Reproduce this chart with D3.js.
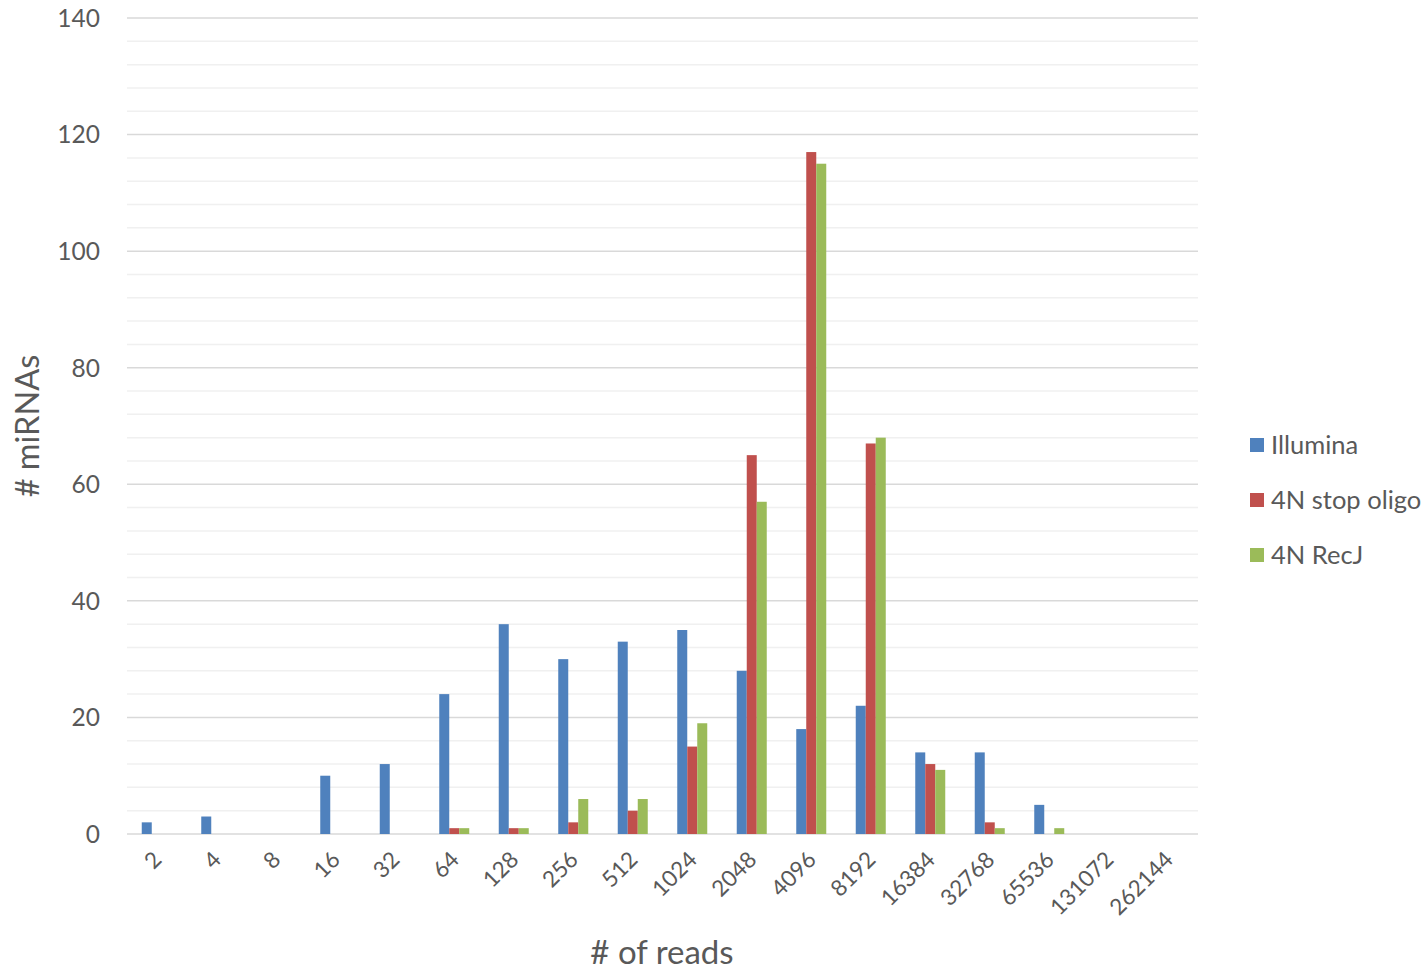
<!DOCTYPE html>
<html><head><meta charset="utf-8">
<script src="https://cdn.jsdelivr.net/npm/d3@7/dist/d3.min.js"></script>
<style>body{margin:0;background:#fff;} svg{display:block;font-family:Lato,"Open Sans",sans-serif;}</style>
</head><body><svg id="c" width="1422" height="970"></svg>
<script>
const categories = ["2","4","8","16","32","64","128","256","512","1024","2048","4096","8192","16384","32768","65536","131072","262144"];
const seriesNames = ["Illumina","4N stop oligo","4N RecJ"];
const illumina = [2,3,0,10,12,24,36,30,33,35,28,18,22,14,14,5,0,0];
const stopOligo = [0,0,0,0,0,1,1,2,4,15,65,117,67,12,2,0,0,0];
const recJ = [0,0,0,0,0,1,1,6,6,19,57,115,68,11,1,1,0,0];
const colors = ["#4f81bd","#c0504d","#9bbb59"];
const yMajorTicks = [0,20,40,60,80,100,120,140];

(function(){
const series = [illumina, stopOligo, recJ];
const svg = d3.select("#c");
const pL = 127, pR = 1198, pT = 18, pB = 834;
const x = d3.scaleBand().domain(categories).range([pL, pR]).paddingInner(0).paddingOuter(0);
const y = d3.scaleLinear().domain([0,140]).range([pB, pT]);
const barW = 10;

svg.append("g").selectAll("line").data(d3.range(0,141,4).filter(v=>v%20!==0)).join("line")
  .attr("x1",pL).attr("x2",pR).attr("y1",d=>y(d)).attr("y2",d=>y(d))
  .attr("stroke","#f0f0f0").attr("stroke-width",1.5);
svg.append("g").selectAll("line").data(yMajorTicks).join("line")
  .attr("x1",pL).attr("x2",pR).attr("y1",d=>y(d)).attr("y2",d=>y(d))
  .attr("stroke","#d9d9d9").attr("stroke-width",1.5);

svg.append("g").selectAll("text").data(yMajorTicks).join("text")
  .attr("x",100).attr("y",d=>y(d)).attr("dy","0.36em").attr("text-anchor","end")
  .attr("font-size",24.5).attr("fill","#595959").text(d=>d);

const gs = svg.append("g");
series.forEach((vals,si)=>{
  gs.append("g").selectAll("rect").data(vals).join("rect")
    .attr("x",(d,i)=>x(categories[i]) + x.bandwidth()/2 - 1.5*barW + si*barW)
    .attr("y",d=>y(d)).attr("width",barW).attr("height",d=>y(0)-y(d))
    .attr("fill",colors[si]);
});

svg.append("g").selectAll("text").data(categories).join("text")
  .attr("transform",d=>`translate(${x(d)+x.bandwidth()/2-5},850) rotate(-45)`)
  .attr("text-anchor","end").attr("dy","0.7em")
  .attr("font-size",22.5).attr("fill","#595959").text(d=>d);

svg.append("text").attr("transform","translate(39,426) rotate(-90)").attr("text-anchor","middle")
  .attr("font-size",32.5).attr("fill","#595959").text("# miRNAs");
svg.append("text").attr("x",662).attr("y",964).attr("text-anchor","middle")
  .attr("font-size",33).attr("fill","#595959").text("# of reads");

const lg = svg.append("g").selectAll("g").data(seriesNames).join("g")
  .attr("transform",(d,i)=>`translate(1250,${445+i*55})`);
lg.append("rect").attr("x",0).attr("y",-7).attr("width",14).attr("height",14).attr("fill",(d,i)=>colors[i]);
lg.append("text").attr("x",21).attr("y",0).attr("dy","0.36em").attr("font-size",25.5).attr("fill","#595959").text(d=>d);
})();
</script></body></html>
